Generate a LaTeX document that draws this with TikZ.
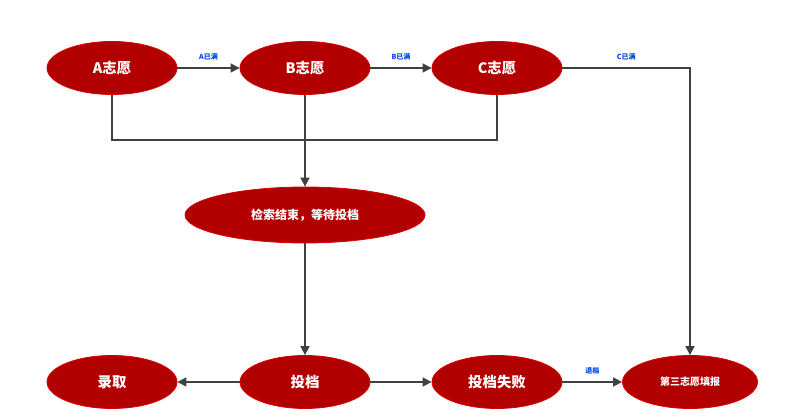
\documentclass[tikz,border=0pt]{standalone}
\usepackage{fontspec}
\setmainfont{Noto Sans CJK SC}
\usetikzlibrary{arrows.meta,positioning,shapes.geometric}

\tikzset{
    vol/.style={ellipse, draw=red!85!black, fill=red!70!black, thick,
                text=white, font=\bfseries\Large, inner sep=0pt,
                minimum width=130pt, minimum height=53pt},
    link/.style={draw=black!75, line width=1.6pt},
    arr/.style={link, -{Triangle[length=9pt,width=9pt]}},
    tag/.style={text=blue!70!cyan!90!black, font=\bfseries\scriptsize}
}

\begin{document}
\begin{tikzpicture}[x=1pt,y=1pt]
    \useasboundingbox (0,0) rectangle (786,417);

    % first row
    \node[vol] (avol) at (112,349) {A志愿};
    \node[vol] (bvol) at (305,349) {B志愿};
    \node[vol] (cvol) at (497,349) {C志愿};

    % waiting
    \node[vol, minimum width=240pt, minimum height=56pt, font=\bfseries\large]
        (wait) at (305,202) {检索结束，等待投档};

    % last row
    \node[vol] (admit) at (112,35) {录取};
    \node[vol] (cast) at (305,35) {投档};
    \node[vol] (fail) at (497,35) {投档失败};
    \node[vol, minimum width=135pt, font=\bfseries\normalsize] (third) at (690,35) {第三志愿填报};

    \coordinate (join) at (305,277);

    \draw[arr] (avol) -- node[tag, above=4pt] {A已满} (bvol);
    \draw[arr] (bvol) -- node[tag, above=4pt] {B已满} (cvol);
    \draw[arr] (cvol.east) -| (third.north)
        node[tag, pos=0.25, above=4pt] {C已满};
    \draw[link] (avol.south) |- (join);
    \draw[link] (cvol.south) |- (join);
    \draw[arr] (bvol.south) -- (wait.north);
    \draw[arr] (wait.south) -- (cast.north);
    \draw[arr] (cast) -- (admit);
    \draw[arr] (cast) -- (fail);
    \draw[arr] (fail) -- node[tag, above=4pt] {退档} (third);
\end{tikzpicture}
\end{document}
